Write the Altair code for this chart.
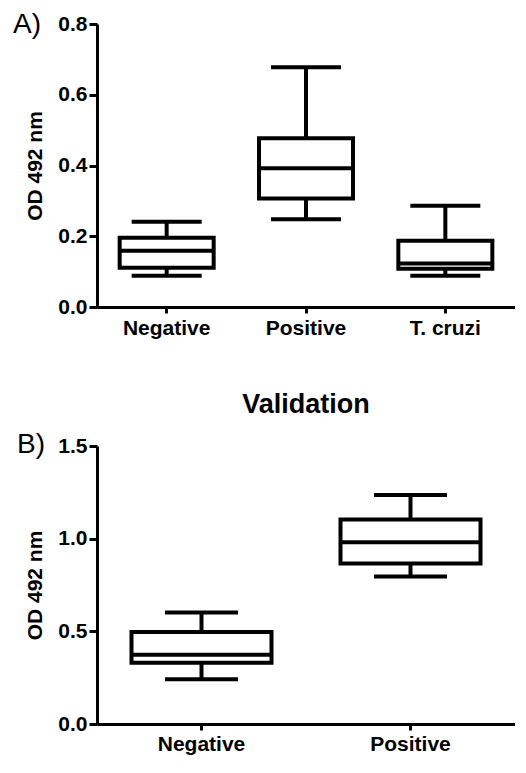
import altair as alt
import pandas as pd

# Panel A (screening)
top_groups = ["Negative", "Positive", "T. cruzi"]
top_min = [0.088, 0.248, 0.088]
top_q1 = [0.111, 0.307, 0.108]
top_median = [0.159, 0.392, 0.123]
top_q3 = [0.196, 0.477, 0.187]
top_max = [0.241, 0.678, 0.286]
top_ticks = [0.0, 0.2, 0.4, 0.6, 0.8]

# Panel B (validation)
bot_groups = ["Negative", "Positive"]
bot_min = [0.241, 0.796]
bot_q1 = [0.330, 0.866]
bot_median = [0.373, 0.981]
bot_q3 = [0.496, 1.104]
bot_max = [0.602, 1.236]
bot_ticks = [0.0, 0.5, 1.0, 1.5]

FONT = "Liberation Sans"
SW = 4


def panel(groups, mn, q1, med, q3, mx, ticks, dmax, label, w, h, box_w, cap_w, label_x, label_y,
          label_pad, title=None):
    df = pd.DataFrame({"g": groups, "min": mn, "q1": q1, "med": med, "q3": q3, "max": mx})
    xenc = alt.X("g:N", sort=groups, title=None,
                 scale=alt.Scale(paddingInner=0, paddingOuter=0),
                 axis=alt.Axis(labelAngle=0, tickSize=6, labelPadding=label_pad))
    yscale = alt.Scale(domain=[0, dmax], nice=False, zero=True)
    yaxis = alt.Axis(values=ticks, format=".1f", title="OD 492 nm", grid=False,
                     tickSize=8, labelPadding=2, titlePadding=12)
    base = alt.Chart(df)
    whisk_lo = base.mark_rule(color="black", strokeWidth=SW).encode(
        x=xenc, y=alt.Y("min:Q", scale=yscale, axis=yaxis), y2="q1:Q")
    whisk_hi = base.mark_rule(color="black", strokeWidth=SW).encode(
        x=xenc, y=alt.Y("q3:Q"), y2="max:Q")
    box = base.mark_bar(size=box_w, fill="white", stroke="black", strokeWidth=SW).encode(
        x=xenc, y="q1:Q", y2="q3:Q")
    med_t = base.mark_tick(size=box_w, thickness=SW, color="black", opacity=1).encode(
        x=xenc, y="med:Q")
    cap_lo = base.mark_tick(size=cap_w, thickness=SW, color="black", opacity=1).encode(
        x=xenc, y="min:Q")
    cap_hi = base.mark_tick(size=cap_w, thickness=SW, color="black", opacity=1).encode(
        x=xenc, y="max:Q")
    lab = alt.Chart(pd.DataFrame({"t": [label]})).mark_text(
        font=FONT, fontSize=28, fontWeight="normal", align="left", baseline="middle", color="black"
    ).encode(x=alt.value(label_x), y=alt.value(label_y), text="t:N")
    ch = alt.layer(whisk_lo, whisk_hi, box, med_t, cap_lo, cap_hi, lab).properties(width=w, height=h)
    if title:
        ch = ch.properties(title=alt.TitleParams(title, font=FONT, fontSize=27, fontWeight="bold",
                                                 anchor="middle", frame="group", offset=12, color="black"))
    return ch


top = panel(top_groups, top_min, top_q1, top_median, top_q3, top_max, top_ticks, 0.8,
            "A)", 418, 283, 94, 70, -84, 1, 4)
bot = panel(bot_groups, bot_min, bot_q1, bot_median, bot_q3, bot_max, bot_ticks, 1.5,
            "B)", 418, 278, 140, 73, -80, -1, 3, title="Validation")

chart = alt.vconcat(top, bot, spacing=53).properties(
    padding={"left": 5, "top": 3, "right": 0, "bottom": 3}
).configure(font=FONT).configure_view(stroke=None).configure_axis(
    domainColor="black", domainWidth=3, tickColor="black", tickWidth=3,
    labelColor="black", labelFont=FONT, labelFontSize=21, labelFontWeight="bold",
    titleColor="black", titleFont=FONT, titleFontSize=21, titleFontWeight="bold"
)

chart.save("out.html", embed_options={"renderer": "svg", "actions": False})
